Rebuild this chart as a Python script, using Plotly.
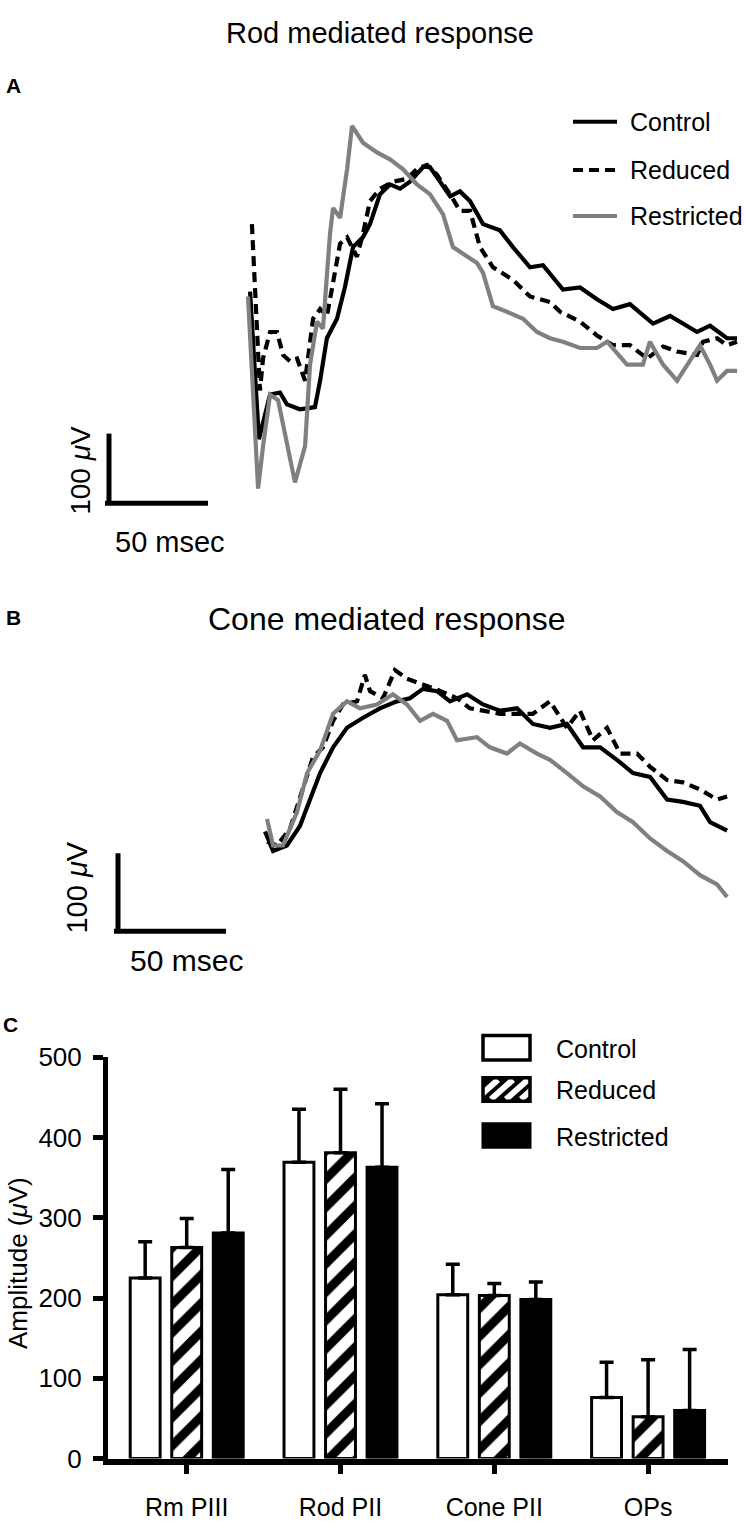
import plotly.graph_objects as go

# ---------------- DATA ----------------
# Panel A: rod mediated response (time in ms, amplitude in µV)
rod_t_control = [1.0, 5.3, 10.7, 15.5, 18.9, 25.2, 32.5, 35.0, 38.3, 43.2, 47.1, 51.0, 55.8, 59.2, 64.1, 68.9, 73.8, 78.6, 85.0, 88.3,
                 93.2, 98.1, 102.9, 107.8, 114.1, 122.3, 128.6, 136.9, 143.2, 152.9, 161.2, 169.4, 177.2, 185.4, 196.6, 204.9, 218.0, 224.3, 232.5, 237.4]
rod_v_control = [4, -208, -144, -141, -158, -165, -162, -124, -63, -35, 11, 68, 82, 101, 144, 158, 152, 162, 183, 183,
                 162, 141, 148, 134, 101, 92, 68, 39, 42, 7, 10, -7, -21, -14, -42, -31, -54, -45, -63, -63]

rod_t_reduced = [1.9, 3.4, 5.8, 7.3, 10.7, 14.1, 17.0, 20.4, 23.8, 27.7, 31.6, 35.0, 38.3, 41.3, 44.7, 48.1, 52.9, 55.8, 59.2, 64.1,
                 70.4, 77.2, 82.0, 86.9, 91.7, 98.1, 102.9, 107.8, 112.6, 118.9, 128.6, 136.9, 146.6, 151.5, 161.2, 169.4, 177.2, 185.4, 193.7, 201.5,
                 208.3, 218.0, 220.9, 227.7, 232.5, 237.4]
rod_v_reduced = [101, 11, -138, -92, -54, -54, -87, -96, -92, -124, -35, -21, -31, 17, 73, 82, 54, 87, 134, 152,
                 162, 166, 180, 186, 172, 144, 120, 120, 68, 39, 21, -3, -11, -25, -39, -59, -73, -73, -92, -75,
                 -82, -87, -68, -63, -73, -68]

rod_t_restricted = [0.0, 4.9, 7.3, 10.7, 14.6, 18.9, 22.8, 27.7, 30.1, 33.5, 36.4, 39.8, 41.3, 44.7, 48.1, 50.5, 55.8, 62.6, 68.9, 75.2,
                    82.0, 88.3, 94.7, 99.5, 106.3, 111.2, 114.1, 118.9, 125.7, 133.5, 140.3, 146.6, 152.9, 161.2, 169.4, 174.3, 184.0, 191.7, 195.1, 201.5,
                    208.3, 213.1, 219.4, 224.3, 227.7, 232.5, 237.4]
rod_v_restricted = [-3, -279, -218, -144, -152, -218, -270, -218, -101, -39, -49, 87, 124, 110, 180, 242, 218, 204, 194, 180,
                    158, 144, 115, 68, 54, 45, 31, -17, -25, -35, -54, -63, -68, -77, -77, -68, -101, -101, -68, -101,
                    -124, -101, -73, -101, -124, -110, -110]

# Panel B: cone mediated response (time in ms, amplitude in µV)
cone_t_control = [0.0, 3.6, 9.8, 15.6, 20.1, 24.6, 30.4, 36.6, 43.8, 51.3, 58.9, 64.7, 70.5, 76.8, 82.6, 90.2, 97.3, 104.9, 112.5, 119.6,
                  127.2, 134.8, 142.0, 149.6, 157.1, 164.3, 171.9, 179.5, 186.6, 194.2, 198.7, 206.3]
cone_v_control = [9, -16, -9, 16, 50, 84, 117, 142, 155, 167, 176, 180, 192, 189, 176, 185, 172, 164, 167, 147,
                  142, 147, 117, 117, 101, 84, 79, 50, 47, 42, 21, 10]

cone_t_reduced = [0.9, 5.4, 11.2, 17.0, 21.4, 25.9, 30.4, 34.8, 41.1, 44.6, 46.9, 52.7, 58.0, 63.4, 70.5, 76.8, 85.7, 91.5, 97.3, 104.9,
                  112.5, 119.6, 127.2, 134.8, 140.6, 146.4, 152.7, 158.5, 166.1, 171.9, 179.5, 186.6, 194.2, 201.8, 206.3]
cone_v_reduced = [-4, -9, 13, 67, 104, 117, 151, 172, 176, 210, 189, 180, 216, 205, 198, 191, 180, 167, 164, 160,
                  160, 160, 176, 142, 164, 126, 142, 109, 109, 92, 75, 72, 63, 50, 54]

cone_t_restricted = [0.9, 3.6, 8.0, 14.3, 18.8, 24.6, 30.4, 36.6, 42.4, 50.0, 57.1, 63.4, 69.2, 75.0, 81.3, 85.7, 94.6, 100.4, 108.0, 113.8,
                     121.4, 127.2, 134.8, 142.0, 149.6, 157.1, 164.3, 171.9, 179.5, 186.6, 194.2, 201.8, 206.3]
cone_v_restricted = [25, -9, -9, 34, 84, 113, 160, 176, 167, 172, 185, 172, 151, 160, 151, 126, 130, 117, 109, 122,
                     109, 101, 84, 67, 54, 34, 21, 0, -16, -29, -47, -59, -75]

# Panel C: amplitudes (µV), mean and upper error
categories = ["Rm PIII", "Rod PII", "Cone PII", "OPs"]
control_mean = [225, 369, 204, 76]
control_err = [45, 66, 38, 44]
reduced_mean = [263, 381, 203, 52]
reduced_err = [36, 79, 15, 71]
restricted_mean = [281, 363, 198, 60]
restricted_err = [79, 79, 22, 76]
group_names = ["Control", "Reduced", "Restricted"]
y_ticks = [0, 100, 200, 300, 400, 500]

# ---------------- LAYOUT HELPERS ----------------
W, H = 746, 1528
FONT = "Liberation Sans, Arial, Helvetica, sans-serif"


def fx(p):
    return p / W


def fy(p):
    return 1 - p / H


# pixel anchors for the trace panels
A_T0, A_PXMS, A_V0, A_PXUV, A_TOP, A_BOT = 248, 2.06, 285, 0.71, 90, 560
B_T0, B_PXMS, B_V0, B_PXUV, B_TOP, B_BOT = 265, 2.24, 840, 0.795, 640, 1000
# panel C axis anchors
C_LEFT, C_RIGHT, C_ZERO, C_TOP = 108, 728, 1472.5, 1063
C_CAT0, C_STEP = 186.7, 153.8

fig = go.Figure()

LW = 4.2
styles = [dict(color="black", width=LW),
          dict(color="black", width=LW, dash="10px,6px"),
          dict(color="#808080", width=LW)]

for t, v, st in zip([rod_t_control, rod_t_reduced, rod_t_restricted],
                    [rod_v_control, rod_v_reduced, rod_v_restricted], styles):
    fig.add_trace(go.Scatter(x=t, y=v, mode="lines", line=st, xaxis="x", yaxis="y",
                             showlegend=False, hoverinfo="skip"))

for t, v, st in zip([cone_t_control, cone_t_reduced, cone_t_restricted],
                    [cone_v_control, cone_v_reduced, cone_v_restricted], styles):
    fig.add_trace(go.Scatter(x=t, y=v, mode="lines", line=st, xaxis="x2", yaxis="y2",
                             showlegend=False, hoverinfo="skip"))

bar_markers = [
    dict(color="white", line=dict(color="black", width=3)),
    dict(color="white", line=dict(color="black", width=3),
         pattern=dict(shape="/", fgcolor="#000000", bgcolor="#ffffff", fgopacity=1,
                      fillmode="replace", size=20, solidity=0.45)),
    dict(color="black", line=dict(color="black", width=3)),
]
for name, m, e, mk in zip(group_names, [control_mean, reduced_mean, restricted_mean],
                          [control_err, reduced_err, restricted_err], bar_markers):
    fig.add_trace(go.Bar(
        x=categories, y=m, name=name, marker=mk, xaxis="x3", yaxis="y3", showlegend=False,
        hoverinfo="skip",
        error_y=dict(type="data", symmetric=False, array=e, arrayminus=[0] * len(e),
                     color="black", thickness=3.5, width=7),
    ))

shapes = []
annotations = []

# scale bars panel A
a_corner_t = (105 - A_T0) / A_PXMS
a_corner_v = (A_V0 - 498) / A_PXUV
a_vert_t = (109 - A_T0) / A_PXMS
shapes.append(dict(type="line", xref="x", yref="y", x0=a_corner_t, x1=a_corner_t + 50,
                   y0=a_corner_v, y1=a_corner_v, line=dict(color="black", width=5)))
shapes.append(dict(type="line", xref="x", yref="y", x0=a_vert_t, x1=a_vert_t,
                   y0=a_corner_v, y1=a_corner_v + 100, line=dict(color="black", width=5)))
# scale bars panel B
b_corner_t = (114 - B_T0) / B_PXMS
b_corner_v = (B_V0 - 934.5) / B_PXUV
b_vert_t = (118 - B_T0) / B_PXMS
shapes.append(dict(type="line", xref="x2", yref="y2", x0=b_corner_t, x1=b_corner_t + 50,
                   y0=b_corner_v, y1=b_corner_v, line=dict(color="black", width=5)))
shapes.append(dict(type="line", xref="x2", yref="y2", x0=b_vert_t, x1=b_vert_t,
                   y0=b_corner_v, y1=b_corner_v + 100, line=dict(color="black", width=5)))

# legend panel A (line swatches)
for yy, st, name in zip([109, 158, 205], styles, group_names):
    ln = dict(color=st["color"], width=4)
    if "dash" in st:
        ln["dash"] = st["dash"]
    shapes.append(dict(type="line", xref="paper", yref="paper", x0=fx(573), x1=fx(617),
                       y0=fy(yy), y1=fy(yy), line=ln))
    annotations.append(dict(x=fx(628), y=fy(yy), xref="paper", yref="paper", text=name,
                            showarrow=False, xanchor="left", yanchor="middle",
                            font=dict(size=25, color="black", family=FONT)))

# legend panel C (box swatches)
bx0, bx1 = fx(483), fx(530)
shapes.append(dict(type="rect", xref="paper", yref="paper", x0=bx0, x1=bx1, y0=fy(1066), y1=fy(1041),
                   fillcolor="white", line=dict(color="black", width=3.5)))
shapes.append(dict(type="rect", xref="paper", yref="paper", x0=bx0, x1=bx1, y0=fy(1108), y1=fy(1084),
                   fillcolor="black", line=dict(color="black", width=0)))
for xb in [476, 491, 506, 521]:
    shapes.append(dict(type="line", xref="paper", yref="paper", x0=fx(xb), x1=fx(xb + 22),
                       y0=fy(1106), y1=fy(1086), line=dict(color="white", width=6)))
shapes.append(dict(type="rect", xref="paper", yref="paper", x0=bx0, x1=bx1, y0=fy(1108), y1=fy(1084),
                   fillcolor="rgba(0,0,0,0)", line=dict(color="black", width=3.5)))
shapes.append(dict(type="rect", xref="paper", yref="paper", x0=bx0, x1=bx1, y0=fy(1155), y1=fy(1131),
                   fillcolor="black", line=dict(color="black", width=3)))
for yy, name in zip([1055, 1097, 1144], group_names):
    annotations.append(dict(x=fx(554), y=fy(yy), xref="paper", yref="paper", text=name,
                            showarrow=False, xanchor="left", yanchor="middle",
                            font=dict(size=25, color="black", family=FONT)))


def txt(x, y, s, size, bold=False, angle=0, xanchor="center"):
    annotations.append(dict(x=fx(x), y=fy(y), xref="paper", yref="paper",
                            text=f"<b>{s}</b>" if bold else s, showarrow=False,
                            xanchor=xanchor, yanchor="middle", textangle=angle,
                            font=dict(size=size, color="black", family=FONT)))


txt(380, 18, "Rod mediated response", 29)
txt(387, 616, "Cone mediated response", 32)
txt(14, 72, "A", 21, bold=True)
txt(14, 615, "B", 21, bold=True)
txt(10, 1030, "C", 21, bold=True)
txt(81, 465, "100 <i>μ</i>V", 28, angle=-90)
txt(170, 538, "50 msec", 29)
txt(77, 890, "100 <i>μ</i>V", 29, angle=-90)
txt(186, 964, "50 msec", 30)
txt(18, 1273, "Amplitude (<i>μ</i>V)", 26, angle=-90)

fig.update_layout(
    width=W, height=H, autosize=False,
    margin=dict(l=0, r=0, t=0, b=0),
    paper_bgcolor="white", plot_bgcolor="rgba(0,0,0,0)",
    font=dict(family=FONT, color="black"),
    barmode="group", bargap=0.19, bargroupgap=0.28,
    shapes=shapes, annotations=annotations,
    xaxis=dict(domain=[0, 1], range=[(0 - A_T0) / A_PXMS, (W - A_T0) / A_PXMS], visible=False, anchor="y"),
    yaxis=dict(domain=[fy(A_BOT), fy(A_TOP)], range=[(A_V0 - A_BOT) / A_PXUV, (A_V0 - A_TOP) / A_PXUV],
               visible=False, anchor="x"),
    xaxis2=dict(domain=[0, 1], range=[(0 - B_T0) / B_PXMS, (W - B_T0) / B_PXMS], visible=False, anchor="y2"),
    yaxis2=dict(domain=[fy(B_BOT), fy(B_TOP)], range=[(B_V0 - B_BOT) / B_PXUV, (B_V0 - B_TOP) / B_PXUV],
                visible=False, anchor="x2"),
    xaxis3=dict(domain=[fx(C_LEFT), fx(C_RIGHT)], anchor="y3", type="category",
                range=[(C_LEFT - C_CAT0) / C_STEP, (C_RIGHT - C_CAT0) / C_STEP],
                showline=True, linewidth=6, linecolor="black", ticks="outside", ticklen=9,
                tickwidth=5, tickcolor="black", showgrid=False, zeroline=False,
                tickfont=dict(size=25, family=FONT, color="black"), ticklabelstandoff=12),
    yaxis3=dict(domain=[fy(C_ZERO), fy(C_TOP)], anchor="x3", range=[0, 500], tickvals=y_ticks,
                showline=True, linewidth=5, linecolor="black", ticks="outside", ticklen=10,
                tickwidth=5, tickcolor="black", showgrid=False, zeroline=False,
                tickfont=dict(size=26, family=FONT, color="black"), ticklabelstandoff=6),
)

fig.write_html("out.html", config={"displayModeBar": False},
               post_script="document.body.style.margin='0px';document.body.style.overflow='hidden';")
